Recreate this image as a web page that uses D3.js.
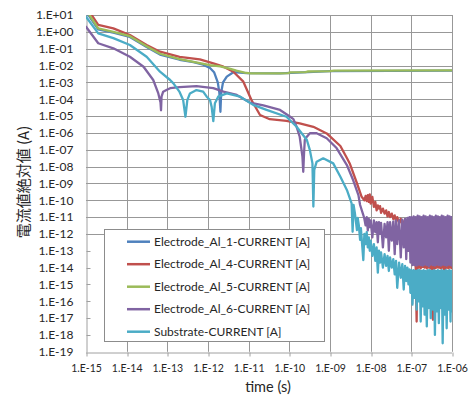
<!DOCTYPE html>
<html><head><meta charset="utf-8">
<script src="https://cdn.jsdelivr.net/npm/d3@7"></script>
<style>body{margin:0;background:#fff} svg{display:block}</style>
</head><body><svg id="c" width="473" height="396"></svg>
<script>
// ---------- data ----------
const seriesNames = ["Electrode_Al_1-CURRENT [A]","Electrode_Al_4-CURRENT [A]","Electrode_Al_5-CURRENT [A]","Electrode_Al_6-CURRENT [A]","Substrate-CURRENT [A]"];
const xTickLabels = ["1.E-15","1.E-14","1.E-13","1.E-12","1.E-11","1.E-10","1.E-09","1.E-08","1.E-07","1.E-06"];
const yTickLabels = ["1.E+01","1.E+00","1.E-01","1.E-02","1.E-03","1.E-04","1.E-05","1.E-06","1.E-07","1.E-08","1.E-09","1.E-10","1.E-11","1.E-12","1.E-13","1.E-14","1.E-15","1.E-16","1.E-17","1.E-18","1.E-19"];

const al1Time = [1e-15,2.0e-15,4.7e-15,1.2e-14,3.1e-14,6.6e-14,2.0e-13,4.4e-13,7.6e-13,1.12e-12,1.41e-12,1.74e-12,1.9e-12,2.02e-12,2.11e-12,2.34e-12,2.9e-12,4.2e-12,8.9e-12,5.9e-11,1.0e-9,1e-6];
const al1Current = [16,1.41,0.89,0.50,0.126,0.045,0.022,0.0158,0.0112,7.1e-3,4.0e-3,1.0e-3,2.5e-4,1.8e-5,2.5e-4,1.0e-3,2.2e-3,4.0e-3,3.55e-3,3.4e-3,4.6e-3,5.0e-3];

const al4Time = [1e-15,2.0e-15,4.7e-15,1.2e-14,3.1e-14,6.6e-14,2.0e-13,6.3e-13,1.35e-12,2.4e-12,4.2e-12,7.4e-12,1.17e-11,1.9e-11,3.3e-11,8.5e-11,1.8e-10,3.9e-10,8.3e-10,1.8e-9,2.6e-9,3.1e-9,4.6e-9,6.0e-9];
const al4Current = [32,2.57,1.62,0.65,0.166,0.066,0.033,0.0234,0.0135,8.5e-3,4.3e-3,1.1e-3,8.9e-5,1.15e-5,6.5e-6,5.2e-6,3.7e-6,2.3e-6,9.3e-7,1.66e-7,3.2e-8,1.4e-8,1.02e-9,1.6e-10];

const al5Time = [1e-15,2.0e-15,4.7e-15,1.2e-14,3.1e-14,6.6e-14,2.0e-13,6.3e-13,1.12e-12,2.0e-12,3.55e-12,5.0e-12,7.9e-12,1.12e-11,5.9e-11,9.5e-11,1.05e-10,2.5e-10,2.8e-10,1.0e-9,1.26e-9,1e-6];
const al5Current = [20,1.62,1.0,0.55,0.141,0.050,0.024,0.0141,0.0107,8.9e-3,6.3e-3,5.0e-3,3.8e-3,3.4e-3,3.4e-3,3.55e-3,3.9e-3,4.07e-3,4.4e-3,4.6e-3,5.0e-3,5.1e-3];

const al6Time = [1e-15,2.0e-15,4.7e-15,1.2e-14,2.6e-14,4.5e-14,6.0e-14,6.8e-14,7.0e-14,7.2e-14,7.9e-14,9.5e-14,1.17e-13,2.0e-13,5.2e-13,1.35e-12,2.4e-12,5.1e-12,1.07e-11,2.3e-11,5.9e-11,1.05e-10,1.26e-10,1.51e-10,1.8e-10,2.1e-10,2.2e-10,2.3e-10,2.4e-10,2.7e-10,3.2e-10,4.7e-10,8.3e-10,1.45e-9,2.6e-9,3.7e-9,5.0e-9,5.5e-9,6.6e-9];
const al6Current = [2.0,0.21,0.105,0.033,8.5e-3,1.38e-3,2.2e-4,6.3e-5,2.2e-5,1.41e-4,2.8e-4,3.55e-4,4.5e-4,5.2e-4,6.0e-4,4.5e-4,2.8e-4,1.78e-4,6.3e-5,4.3e-5,2.3e-5,9.1e-6,6.6e-6,2.3e-6,5.9e-7,3.9e-8,4.9e-9,6.2e-8,3.8e-7,5.9e-7,9.5e-7,9.5e-7,4.8e-7,1.26e-7,1.23e-8,1.58e-9,2.0e-10,5.2e-11,1.32e-11];

const subTime = [1e-15,2.0e-15,4.7e-15,1.2e-14,3.1e-14,6.6e-14,1.17e-13,1.41e-13,2.0e-13,2.45e-13,2.79e-13,3.1e-13,3.6e-13,5.2e-13,7.6e-13,9.3e-13,1.12e-12,1.23e-12,1.35e-12,1.48e-12,1.78e-12,2.9e-12,6.2e-12,1.29e-11,2.75e-11,8.5e-11,1.51e-10,2.7e-10,3.2e-10,3.7e-10,3.9e-10,4.1e-10,4.7e-10,6.8e-10,1.2e-9,1.8e-9,2.6e-9,3.4e-9,3.6e-9,3.8e-9,4.1e-9,4.6e-9,4.8e-9,5.1e-9,5.5e-9,5.75e-9,6.6e-9];
const subCurrent = [7.9,0.81,0.42,0.166,0.033,4.3e-3,1.38e-3,8.7e-4,2.7e-4,8.9e-5,9.1e-6,8.9e-5,2.2e-4,3.5e-4,2.8e-4,1.41e-4,8.9e-5,3.5e-5,5.0e-6,5.8e-5,1.41e-4,2.2e-4,1.41e-4,4.6e-5,2.3e-5,9.1e-6,2.3e-6,3.8e-7,9.5e-8,1.55e-8,4.2e-11,6.3e-9,1.95e-8,3.1e-8,1.55e-8,2.5e-9,4.1e-10,6.6e-11,1.35e-12,5.2e-11,1.66e-11,1.7e-12,8.9e-12,3.4e-12,4.4e-13,2.2e-12,2.8e-14];

// late-time (noisy) samples, common time grid
const tailTime = [7.0e-9,7.5e-9,8.0e-9,8.5e-9,9.0e-9,9.5e-9,
 1.0e-8,1.1e-8,1.2e-8,1.3e-8,1.4e-8,1.5e-8,1.6e-8,1.7e-8,1.8e-8,2.0e-8,2.2e-8,2.4e-8,2.6e-8,2.8e-8,3.0e-8,3.3e-8,3.6e-8,3.9e-8,4.2e-8,4.5e-8,5.0e-8,5.5e-8,6.0e-8,6.5e-8,7.0e-8,7.5e-8,8.0e-8,8.5e-8,9.0e-8,9.5e-8,
 1.0e-7,1.07e-7,1.14e-7,1.21e-7,1.28e-7,1.35e-7,1.43e-7,1.51e-7,1.6e-7,1.7e-7,1.8e-7,1.9e-7,2.0e-7,2.12e-7,2.25e-7,2.4e-7,2.55e-7,2.7e-7,2.85e-7,3.0e-7,3.2e-7,3.4e-7,3.6e-7,3.8e-7,4.0e-7,4.25e-7,4.5e-7,4.75e-7,5.0e-7,5.3e-7,5.6e-7,5.9e-7,6.2e-7,6.6e-7,7.0e-7,7.4e-7,7.8e-7,8.2e-7,8.7e-7,9.2e-7,9.6e-7,1.0e-6];
const al4TailCurrent = [1.0e-10,1.8e-10,8.9e-11,2.0e-10,7.9e-11,2.2e-10,
 6.3e-11,1.6e-10,4.0e-11,7.9e-11,2.5e-11,5.0e-11,3.2e-11,4.5e-11,1.8e-11,3.2e-11,1.6e-11,2.5e-11,1.1e-11,2.0e-11,1.0e-11,1.6e-11,7.9e-12,1.26e-11,5.6e-12,1.0e-11,4.5e-12,7.9e-12,3.2e-12,5.6e-12,2.0e-12,4.0e-12,1.0e-12,2.5e-12,3.2e-13,1.6e-12,
 1.0e-13,1.0e-12,1.6e-14,6.3e-13,1.0e-14,6.3e-18,5.0e-13,1.0e-14,4.0e-13,9.0e-15,3.2e-13,1.1e-14,2.5e-13,1.0e-14,3.2e-13,9.0e-15,2.5e-13,1.0e-14,3.2e-13,9.0e-15,2.5e-13,7.9e-18,3.2e-13,9.0e-15,2.5e-13,1.0e-14,3.2e-13,1.0e-14,2.5e-13,9.0e-15,3.2e-13,1.0e-14,2.5e-13,1.6e-16,3.2e-13,1.0e-14,2.5e-13,9.0e-15,3.2e-13,1.0e-14,2.5e-13,9.0e-15];
const al6TailCurrent = [7.9e-12,3.2e-12,1.0e-11,1.6e-12,7.9e-12,2.5e-12,
 6.3e-12,6.3e-13,6.3e-12,1.26e-12,5.0e-12,3.2e-13,5.0e-12,1.0e-12,4.5e-12,1.6e-13,4.0e-12,6.3e-13,5.0e-12,1.0e-13,5.0e-12,4.0e-13,5.6e-12,6.3e-14,6.3e-12,2.5e-13,6.3e-12,4.0e-14,7.1e-12,1.6e-13,7.9e-12,3.2e-14,8.9e-12,1.0e-13,1.0e-11,2.0e-14,
 1.0e-11,1.4e-14,1.1e-11,1.4e-14,1.0e-11,1.3e-14,1.2e-11,1.5e-14,1.1e-11,1.4e-14,1.0e-11,1.3e-14,1.2e-11,1.5e-14,1.1e-11,1.4e-14,1.0e-11,1.2e-14,1.2e-11,1.5e-14,1.1e-11,1.4e-14,1.0e-11,1.3e-14,1.2e-11,1.5e-14,1.1e-11,1.4e-14,1.0e-11,1.3e-14,1.2e-11,1.5e-14,1.1e-11,1.4e-14,1.0e-11,1.3e-14,1.2e-11,1.5e-14,1.1e-11,1.4e-14,1.0e-11,1.3e-14];
const subTailCurrent = [1.0e-12,2.5e-13,1.26e-12,1.6e-13,6.3e-13,1.0e-13,
 4.0e-13,5.0e-14,2.5e-13,2.5e-14,1.6e-13,5.0e-15,1.0e-13,2.0e-14,7.9e-14,1.0e-14,6.3e-14,1.26e-14,5.0e-14,6.3e-15,4.0e-14,1.0e-14,3.2e-14,4.0e-15,2.5e-14,6.3e-16,2.0e-14,2.5e-15,1.6e-14,5.0e-16,1.26e-14,1.6e-15,1.0e-14,1.0e-15,7.9e-15,3.2e-16,
 7.1e-15,6.3e-17,7.1e-15,1.6e-16,6.3e-15,3.2e-17,7.1e-15,1.0e-16,7.1e-15,6.3e-18,6.3e-15,5.0e-17,7.1e-15,1.6e-17,6.3e-15,3.2e-18,7.1e-15,4.0e-17,7.1e-15,1.0e-17,6.3e-15,3.2e-17,7.1e-15,1.0e-18,6.3e-15,2.5e-17,7.1e-15,5.0e-18,6.3e-15,4.0e-17,7.1e-15,3.2e-19,6.3e-15,1.6e-17,7.1e-15,2.5e-18,6.3e-15,3.2e-17,7.1e-15,6.3e-18,6.3e-15,2.5e-17];

const seriesColors = ["#4F81BD","#C0504D","#9BBB59","#8064A2","#4BACC6"];

// ---------- build ----------
const zip = (t, v) => t.map((d, i) => [d, v[i]]);
const seriesData = [
  zip(al1Time, al1Current),
  zip(al4Time, al4Current).concat(zip(tailTime, al4TailCurrent)),
  zip(al5Time, al5Current),
  zip(al6Time, al6Current).concat(zip(tailTime, al6TailCurrent)),
  zip(subTime, subCurrent).concat(zip(tailTime, subTailCurrent))
];
const parseLabel = s => +s.replace(".E", "e");
const xTicks = xTickLabels.map(parseLabel);
const yTicks = yTickLabels.map(parseLabel);

const L = 86, R = 452, T = 15, B = 351.8;
const x = d3.scaleLog().domain([1e-15, 1e-6]).range([L, R]);
const y = d3.scaleLog().domain([10, 1e-19]).range([T, B]);
const svg = d3.select("#c");
const font = "Lato, 'Liberation Sans', sans-serif";
const crisp = v => Math.round(v) + 0.5;

// gridlines
const grid = svg.append("g");
grid.selectAll("line.h").data(yTicks.filter(v => v >= 1e-12)).join("line")
  .attr("x1", L).attr("x2", R).attr("y1", d => crisp(y(d))).attr("y2", d => crisp(y(d)))
  .attr("stroke", "#989898").attr("stroke-width", 1);
grid.selectAll("line.v").data(xTicks.slice(1)).join("line")
  .attr("y1", T).attr("y2", B).attr("x1", d => crisp(x(d))).attr("x2", d => crisp(x(d)))
  .attr("stroke", "#989898").attr("stroke-width", 1);
grid.selectAll("line.t").data(yTicks.filter(v => v < 1e-12 && v > 1e-19)).join("line")
  .attr("x1", crisp(L)).attr("x2", crisp(L) + 4).attr("y1", d => crisp(y(d))).attr("y2", d => crisp(y(d)))
  .attr("stroke", "#a0a0a0");

// axes
const xAxis = svg.append("g").attr("transform", `translate(0,${crisp(B)})`)
  .call(d3.axisBottom(x).tickValues(xTicks).tickFormat((d, i) => xTickLabels[i]).tickSize(4).tickSizeOuter(0).tickPadding(8));
xAxis.select(".domain").attr("stroke", "#a0a0a0").attr("d", `M${L},0.5H${R}`);
xAxis.selectAll(".tick line").attr("stroke", "#a0a0a0").attr("transform", d => `translate(${crisp(x(d)) - x(d)},0)`);
xAxis.selectAll("text").attr("font-family", font).attr("font-size", 10.5).attr("fill", "#262626");

const yAxis = svg.append("g").attr("transform", `translate(${crisp(L)},0)`)
  .call(d3.axisLeft(y).tickValues(yTicks).tickFormat((d, i) => yTickLabels[i]).tickSize(0).tickSizeOuter(0).tickPadding(13));
yAxis.select(".domain").attr("stroke", "#a0a0a0");
yAxis.selectAll("text").attr("font-family", font).attr("font-size", 12).attr("fill", "#262626");

// series
svg.append("clipPath").attr("id", "clip").append("rect").attr("x", L).attr("y", T).attr("width", R - L).attr("height", B - T);
const line = d3.line().x(d => x(d[0])).y(d => y(d[1]));
svg.append("g").attr("clip-path", "url(#clip)").selectAll("path").data(seriesData).join("path")
  .attr("d", line).attr("fill", "none").attr("stroke", (d, i) => seriesColors[i])
  .attr("stroke-width", 2.3).attr("stroke-linejoin", "round").attr("stroke-linecap", "round");

// legend
const lg = svg.append("g");
lg.append("rect").attr("x", 104.5).attr("y", 229.5).attr("width", 220).attr("height", 112)
  .attr("fill", "#fff").attr("stroke", "#8c8c8c");
const items = lg.selectAll("g").data(seriesNames).join("g")
  .attr("transform", (d, i) => `translate(0,${241.7 + i * 22.5})`);
items.append("line").attr("x1", 127).attr("x2", 150).attr("stroke", (d, i) => seriesColors[i]).attr("stroke-width", 2.5);
const legTexts = items.append("text").attr("x", 154).attr("dy", "0.35em").text(d => d)
  .attr("font-family", font).attr("font-size", 12).attr("fill", "#262626");
const w0 = legTexts.node().getComputedTextLength();
const ls = Math.max(0, (148 - w0) / (seriesNames[0].length - 1));
legTexts.attr("letter-spacing", ls + "px");

// titles
svg.append("text").attr("x", 268).attr("y", 392).attr("text-anchor", "middle")
  .attr("font-family", font).attr("font-size", 14.5).attr("fill", "#262626").text("time (s)");
svg.append("text").attr("transform", "translate(29,182) rotate(-90)").attr("text-anchor", "middle")
  .attr("font-family", "'Noto Sans CJK JP', sans-serif").attr("font-size", 15).attr("fill", "#262626").text("電流値絶対値 (A)");
</script></body></html>
